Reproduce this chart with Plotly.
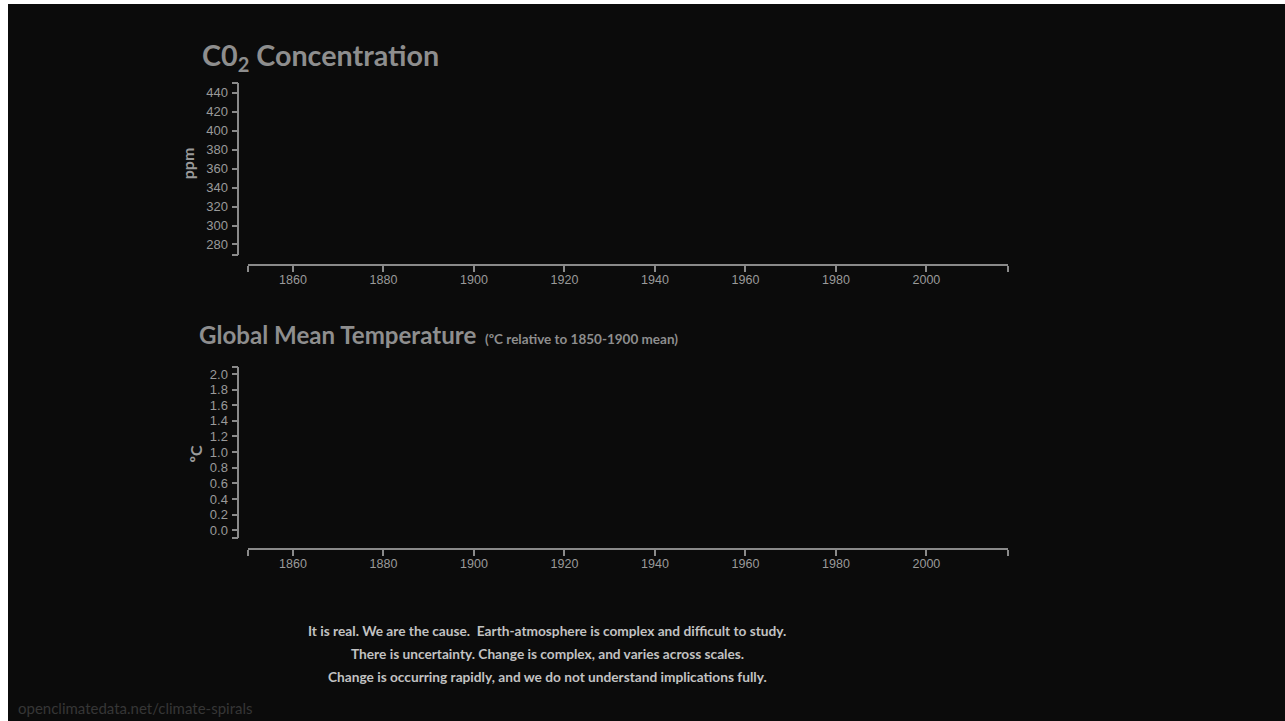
import plotly.graph_objects as go

# the page keeps a small white border (top 4px, left 8px) as in the reference
OFFX, OFFY = 8, 4
W, H = 1285 - OFFX, 721 - OFFY

# ---- data (axes only; the reference chart shows empty axes) ----
year_ticks = [1860, 1880, 1900, 1920, 1940, 1960, 1980, 2000]
year_range = [1850, 2018]
co2_ticks = [280, 300, 320, 340, 360, 380, 400, 420, 440]
co2_range = [269.2, 450.5]
temp_ticks = [0.0, 0.2, 0.4, 0.6, 0.8, 1.0, 1.2, 1.4, 1.6, 1.8, 2.0]
temp_range = [-0.097, 2.085]
co2_years, co2_values = [], []
temp_years, temp_values = [], []

title_co2 = "C0<sub>2</sub> Concentration"
title_temp = "Global Mean Temperature"
subtitle_temp = "(ºC relative to 1850-1900 mean)"
message_lines = [
    "It is real. We are the cause.  Earth-atmosphere is complex and difficult to study.",
    "There is uncertainty. Change is complex, and varies across scales.",
    "Change is occurring rapidly, and we do not understand implications fully.",
]
source_text = "openclimatedata.net/climate-spirals"

BG = "#0b0b0b"
AXIS = "#8a8a8a"
TICKTXT = "#9a9a9a"
TITLE = "#8e8e8e"


def px(x):
    return (x - OFFX) / W


def py(y):
    y = (y - 6.1) / 0.98  # empirical vertical calibration
    return 1 - (y - OFFY) / H


fig = go.Figure()
fig.add_trace(go.Scatter(x=co2_years, y=co2_values, mode="lines", xaxis="x", yaxis="y",
                         line=dict(color="#ffffff"), showlegend=False))
fig.add_trace(go.Scatter(x=temp_years, y=temp_values, mode="lines", xaxis="x2", yaxis="y2",
                         line=dict(color="#ffffff"), showlegend=False))


def xaxis_cfg(pos):
    return dict(
        domain=[px(246.5), px(1009)], range=year_range, anchor="free", position=py(pos),
        tickvals=[year_range[0]] + year_ticks + [year_range[1]],
        ticktext=[" "] + [str(v) for v in year_ticks] + [" "],
        showgrid=False, zeroline=False, showline=True, linecolor=AXIS, linewidth=1.5,
        ticks="outside", ticklen=6, tickwidth=1.5, tickcolor=AXIS,
        tickfont=dict(family="Liberation Sans, Arial", size=12.5, color=TICKTXT),
        ticklabelstandoff=-3,
        fixedrange=True,
    )


def yaxis_cfg(top, bottom, rng, vals, fmt):
    return dict(
        domain=[py(bottom), py(top)], range=rng, anchor="free", position=px(237),
        tickvals=[rng[0]] + vals + [rng[1]],
        ticktext=[" "] + [fmt.format(v) for v in vals] + [" "],
        showgrid=False, zeroline=False, showline=True, linecolor=AXIS, linewidth=1.5,
        ticks="outside", ticklen=6, tickwidth=1.5, tickcolor=AXIS,
        tickfont=dict(family="Liberation Sans, Arial", size=13, color=TICKTXT),
        ticklabelstandoff=1,
        fixedrange=True,
    )


fig.update_layout(
    width=W, height=H, margin=dict(l=0, r=0, t=0, b=0),
    paper_bgcolor=BG, plot_bgcolor=BG, showlegend=False,
    xaxis=xaxis_cfg(264.3),
    yaxis=yaxis_cfg(81.7, 254, co2_range, co2_ticks, "{:d}"),
    xaxis2=xaxis_cfg(549),
    yaxis2=yaxis_cfg(366.7, 537.3, temp_range, temp_ticks, "{:.1f}"),
)

TF = "Lato, Open Sans, sans-serif"
ann = []
ann.append(dict(text=title_co2, x=px(198.7), y=py(56), xanchor="left", yanchor="middle",
                font=dict(family=TF, size=28.7, color=TITLE, weight=700)))
ann.append(dict(text=title_temp, x=px(196), y=py(334), xanchor="left", yanchor="middle",
                font=dict(family=TF, size=24.1, color=TITLE, weight=700)))
ann.append(dict(text=subtitle_temp, x=px(482), y=py(338.5), xanchor="left", yanchor="middle",
                font=dict(family=TF, size=13.5, color=TITLE, weight=700)))
ann.append(dict(text="ppm", x=px(186), y=py(162), xanchor="center", yanchor="middle",
                textangle=-90, font=dict(family=TF, size=16, color=TICKTXT, weight=700)))
ann.append(dict(text="ºC", x=px(194.5), y=py(453), xanchor="center", yanchor="middle",
                textangle=-90, font=dict(family=TF, size=16, color=TICKTXT, weight=700)))
for i, line in enumerate(message_lines):
    ann.append(dict(text=line, x=px(547), y=py(630.5 + 23 * i), xanchor="center", yanchor="middle",
                    font=dict(family=TF, size=13.7, color="#c2c2c2", weight=700)))
ann.append(dict(text=source_text, x=px(14), y=py(708), xanchor="left", yanchor="middle",
                font=dict(family=TF, size=15, color="#363636")))
for a in ann:
    a.update(xref="paper", yref="paper", showarrow=False)
fig.update_layout(annotations=ann)

fig.write_html("out.html", post_script="document.body.style.margin='4px 0 0 8px';")
